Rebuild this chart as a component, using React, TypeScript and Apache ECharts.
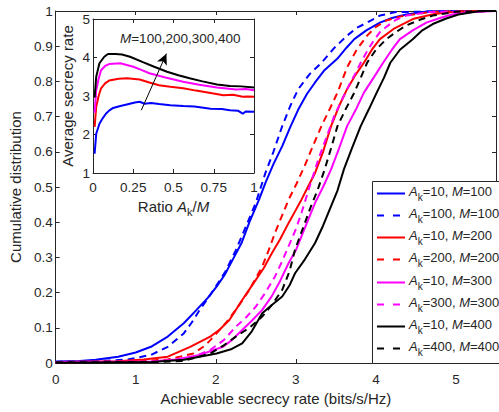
import React, { useEffect, useRef } from 'react';
import * as echarts from 'echarts';

const FONT = '"Liberation Sans", Arial, Helvetica, sans-serif';
const TXT = '#262626';

// ---------- main chart: CDF curves [rate, cumulative probability] ----------
const cdfAk10M100 = [
  [0, 0.004], [0.3, 0.006], [0.5, 0.009], [0.78, 0.018], [1.0, 0.03], [1.19, 0.046], [1.4, 0.075],
  [1.6, 0.113], [1.76, 0.151], [1.9, 0.185], [2.01, 0.217], [2.11, 0.25], [2.21, 0.293], [2.32, 0.34],
  [2.42, 0.4], [2.54, 0.464], [2.62, 0.512], [2.72, 0.565], [2.83, 0.616], [2.93, 0.67], [3.03, 0.72],
  [3.14, 0.765], [3.24, 0.797], [3.35, 0.83], [3.52, 0.865], [3.63, 0.895], [3.73, 0.92], [3.88, 0.945],
  [4.05, 0.967], [4.2, 0.98], [4.38, 0.99], [4.66, 0.999], [5.5, 1],
];
const cdfAk100M100 = [
  [0, 0.003], [0.5, 0.005], [0.9, 0.01], [1.19, 0.023], [1.4, 0.046], [1.6, 0.084], [1.7, 0.115],
  [1.8, 0.151], [1.9, 0.183], [2.0, 0.217], [2.12, 0.26], [2.25, 0.32], [2.38, 0.39], [2.5, 0.455],
  [2.62, 0.54], [2.72, 0.6], [2.83, 0.673], [2.93, 0.73], [3.03, 0.778], [3.17, 0.82], [3.32, 0.853],
  [3.48, 0.895], [3.64, 0.93], [3.76, 0.952], [3.89, 0.967], [4.05, 0.987], [4.25, 0.997], [5.5, 1],
];
const cdfAk10M200 = [
  [0, 0.003], [0.78, 0.005], [1.1, 0.01], [1.4, 0.018], [1.68, 0.046], [1.93, 0.075], [2.05, 0.095],
  [2.17, 0.122], [2.33, 0.179], [2.5, 0.236], [2.6, 0.27], [2.7, 0.312], [2.8, 0.35], [2.91, 0.398],
  [3.0, 0.435], [3.07, 0.464], [3.15, 0.5], [3.24, 0.54], [3.34, 0.6], [3.44, 0.673], [3.54, 0.73],
  [3.64, 0.778], [3.75, 0.82], [3.85, 0.853], [3.95, 0.89], [4.05, 0.92], [4.22, 0.949], [4.46, 0.977],
  [4.7, 0.99], [4.87, 0.996], [5.2, 1], [5.5, 1],
];
const cdfAk200M200 = [
  [0, 0.002], [1.0, 0.004], [1.4, 0.01], [1.72, 0.027], [1.87, 0.05], [2.01, 0.084], [2.13, 0.115],
  [2.25, 0.151], [2.42, 0.208], [2.58, 0.274], [2.66, 0.32], [2.74, 0.37], [2.83, 0.42], [2.91, 0.464],
  [3.01, 0.51], [3.11, 0.56], [3.22, 0.62], [3.32, 0.673], [3.42, 0.72], [3.52, 0.768], [3.64, 0.84],
  [3.76, 0.89], [3.89, 0.93], [4.0, 0.955], [4.13, 0.973], [4.3, 0.984], [4.46, 0.99], [4.7, 0.998], [5.5, 1],
];
const cdfAk10M300 = [
  [0, 0.003], [1.19, 0.004], [1.5, 0.01], [1.8, 0.023], [2.09, 0.046], [2.2, 0.065], [2.33, 0.094],
  [2.45, 0.12], [2.58, 0.151], [2.7, 0.19], [2.79, 0.227], [2.91, 0.284], [3.0, 0.32], [3.07, 0.36],
  [3.16, 0.41], [3.24, 0.455], [3.34, 0.5], [3.44, 0.55], [3.54, 0.61], [3.64, 0.673], [3.75, 0.72],
  [3.85, 0.768], [3.97, 0.81], [4.09, 0.853], [4.2, 0.89], [4.3, 0.92], [4.46, 0.945], [4.63, 0.967],
  [4.8, 0.98], [4.95, 0.99], [5.2, 0.997], [5.5, 1],
];
const cdfAk300M300 = [
  [0, 0.002], [1.3, 0.004], [1.7, 0.015], [1.93, 0.037], [2.1, 0.065], [2.25, 0.103], [2.38, 0.13],
  [2.5, 0.16], [2.62, 0.2], [2.74, 0.246], [2.83, 0.29], [2.91, 0.332], [3.0, 0.38], [3.07, 0.426],
  [3.17, 0.5], [3.28, 0.578], [3.38, 0.64], [3.48, 0.702], [3.58, 0.75], [3.68, 0.797], [3.75, 0.825],
  [3.81, 0.853], [3.9, 0.89], [3.97, 0.915], [4.05, 0.94], [4.13, 0.955], [4.25, 0.975], [4.38, 0.987],
  [4.66, 0.997], [5.5, 1],
];
const cdfAk10M400 = [
  [0, 0.001], [1.2, 0.003], [1.6, 0.009], [2.01, 0.027], [2.2, 0.04], [2.33, 0.056], [2.45, 0.09],
  [2.58, 0.141], [2.7, 0.165], [2.83, 0.189], [2.92, 0.22], [2.99, 0.255], [3.1, 0.29], [3.24, 0.341],
  [3.34, 0.39], [3.44, 0.446], [3.52, 0.49], [3.6, 0.55], [3.7, 0.61], [3.81, 0.673], [3.91, 0.72],
  [4.01, 0.768], [4.1, 0.81], [4.18, 0.853], [4.3, 0.89], [4.46, 0.92], [4.58, 0.945], [4.71, 0.963],
  [4.87, 0.978], [5.03, 0.99], [5.3, 1], [5.5, 1],
];
const cdfAk400M400 = [
  [0, 0.002], [1.3, 0.003], [1.6, 0.006], [1.93, 0.027], [2.1, 0.05], [2.25, 0.075], [2.42, 0.1],
  [2.58, 0.132], [2.7, 0.165], [2.83, 0.208], [2.92, 0.26], [2.99, 0.322], [3.1, 0.39], [3.19, 0.446],
  [3.27, 0.49], [3.36, 0.55], [3.44, 0.61], [3.52, 0.673], [3.62, 0.72], [3.73, 0.768], [3.81, 0.81],
  [3.89, 0.853], [4.0, 0.89], [4.13, 0.92], [4.25, 0.94], [4.38, 0.959], [4.55, 0.975], [4.71, 0.987],
  [5.0, 0.998], [5.5, 1],
];

const mainCurves = [cdfAk10M100, cdfAk100M100, cdfAk10M200, cdfAk200M200, cdfAk10M300, cdfAk300M300, cdfAk10M400, cdfAk400M400];
const legendAk = ['10', '100', '10', '200', '10', '300', '10', '400'];
const legendM = ['100', '100', '200', '200', '300', '300', '400', '400'];
const curveColors = ['#0000ff', '#0000ff', '#ff0000', '#ff0000', '#ff00ff', '#ff00ff', '#000000', '#000000'];
const curveDashed = [false, true, false, true, false, true, false, true];

// ---------- inset: average secrecy rate vs ratio Ak/M ----------
const insetM100 = [
  [0.01, 1.5], [0.02, 2.02], [0.03, 2.15], [0.04, 2.28], [0.06, 2.42], [0.08, 2.54], [0.1, 2.62],
  [0.125, 2.69], [0.17, 2.74], [0.21, 2.78], [0.26, 2.83], [0.29, 2.85], [0.32, 2.8], [0.36, 2.82],
  [0.41, 2.79], [0.48, 2.76], [0.56, 2.74], [0.63, 2.73], [0.73, 2.67], [0.8, 2.66], [0.85, 2.63],
  [0.9, 2.62], [0.93, 2.54], [0.95, 2.6], [1.0, 2.59],
];
const insetM200 = [
  [0.01, 2.2], [0.02, 2.72], [0.035, 3.0], [0.05, 3.2], [0.075, 3.33], [0.1, 3.4], [0.16, 3.45],
  [0.21, 3.46], [0.29, 3.43], [0.35, 3.35], [0.41, 3.28], [0.48, 3.24], [0.56, 3.2], [0.64, 3.14],
  [0.73, 3.08], [0.81, 3.02], [0.87, 3.03], [0.93, 2.98], [0.96, 2.99], [1.0, 2.98],
];
const insetM300 = [
  [0.01, 2.56], [0.02, 3.15], [0.035, 3.45], [0.05, 3.67], [0.075, 3.78], [0.1, 3.83], [0.17, 3.85],
  [0.25, 3.76], [0.3, 3.68], [0.35, 3.59], [0.45, 3.48], [0.56, 3.37], [0.66, 3.29], [0.77, 3.22],
  [0.89, 3.17], [0.95, 3.18], [1.0, 3.15],
];
const insetM400 = [
  [0.01, 2.96], [0.02, 3.5], [0.04, 3.85], [0.07, 4.02], [0.093, 4.09], [0.14, 4.09], [0.18, 4.08],
  [0.23, 4.02], [0.31, 3.88], [0.38, 3.76], [0.46, 3.63], [0.53, 3.54], [0.6, 3.46], [0.68, 3.38],
  [0.77, 3.3], [0.85, 3.26], [0.92, 3.25], [1.0, 3.22],
];
const insetCurves = [insetM100, insetM200, insetM300, insetM400];
const insetColors = ['#0000ff', '#ff0000', '#ff00ff', '#000000'];
const arrowFrom = [0.3, 2.63];
const arrowTo = [0.456, 4.1];
const arrowText = '=100,200,300,400';

const legendNames = legendAk.map((a, i) => `Ak=${a}, M=${legendM[i]}`);

const measure = (() => {
  let ctx: CanvasRenderingContext2D | null = null;
  return (text: string, font: string) => {
    if (!ctx) ctx = document.createElement('canvas').getContext('2d');
    if (!ctx) return text.length * 7;
    ctx.font = font;
    return ctx.measureText(text).width;
  };
})();

const axisCommon = (show: boolean) => ({
  axisLine: { show: true, onZero: false, lineStyle: { color: TXT, width: 1 } },
  axisTick: { show: true, inside: true, length: 4, lineStyle: { color: TXT, width: 1 } },
  splitLine: { show: false },
  axisLabel: { show, color: TXT, fontFamily: FONT, fontSize: 13.5 },
});

function buildLegend() {
  const boxX = 372, boxY = 181, boxW = 130, boxH = 182;
  const rowTop = 193, rowStep = 22.14;
  const fs = 13, subFs = 10;
  const fontN = `${fs}px "Liberation Sans"`;
  const fontI = `italic ${fs}px "Liberation Sans"`;
  const fontS = `${subFs}px "Liberation Sans"`;
  const els: any[] = [
    {
      type: 'rect',
      shape: { x: boxX + 0.5, y: boxY + 0.5, width: boxW, height: boxH },
      style: { fill: '#fff', stroke: TXT, lineWidth: 1 },
      z: 50,
    },
  ];
  legendNames.forEach((_, i) => {
    const cy = Math.round(rowTop + i * rowStep) + 0.5;
    els.push({
      type: 'line',
      shape: { x1: 377, y1: cy, x2: 405, y2: cy },
      style: { stroke: curveColors[i], lineWidth: 2, lineDash: curveDashed[i] ? [7, 9] : null },
      z: 51,
    });
    let x = 409;
    const ty = cy - 2.5;
    const pieces: [string, string, number, number, string][] = [
      ['A', fontI, fs, ty, 'italic'],
      ['k', fontS, subFs, cy + 4, 'normal'],
      [`=${legendAk[i]}, `, fontN, fs, ty, 'normal'],
      ['M', fontI, fs, ty, 'italic'],
      [`=${legendM[i]}`, fontN, fs, ty, 'normal'],
    ];
    pieces.forEach(([t, f, size, y, st]) => {
      els.push({
        type: 'text',
        x,
        y,
        z: 52,
        style: {
          text: t,
          fill: TXT,
          fontSize: size,
          fontFamily: FONT,
          fontStyle: st,
          verticalAlign: 'middle',
          textVerticalAlign: 'middle',
          align: 'left',
        },
      });
      x += measure(t, f);
    });
  });
  return els;
}

export default function App() {
  const ref = useRef<HTMLDivElement>(null);
  useEffect(() => {
    if (!ref.current) return;
    const chart = echarts.init(ref.current, undefined, { renderer: 'svg' });

    const mainSeries = mainCurves.map((d, i) => ({
      name: legendNames[i],
      type: 'line',
      xAxisIndex: 0,
      yAxisIndex: 0,
      data: d,
      symbol: 'none',
      showSymbol: false,
      smooth: false,
      lineStyle: { color: curveColors[i], width: 2, type: curveDashed[i] ? [7, 5] : 'solid' },
      itemStyle: { color: curveColors[i] },
      z: 3,
    }));

    const insetSeries = insetCurves.map((d, i) => ({
      name: 'inset' + i,
      type: 'line',
      xAxisIndex: 2,
      yAxisIndex: 2,
      data: d,
      symbol: 'none',
      showSymbol: false,
      lineStyle: { color: insetColors[i], width: 2 },
      z: 4,
      ...(i === 0
        ? {
            markLine: {
              silent: true,
              symbol: ['none', 'arrow'],
              symbolSize: [8, 11],
              label: { show: false },
              lineStyle: { color: '#000', width: 1, type: 'solid' },
              data: [[{ coord: arrowFrom }, { coord: arrowTo }]],
            },
          }
        : {}),
    }));

    const option: any = {
      animation: false,
      backgroundColor: '#fff',
      textStyle: { fontFamily: FONT },
      grid: [
        { left: 53, top: 11, width: 447, height: 352 },
        { left: 93, top: 19, width: 161, height: 154, show: true, backgroundColor: '#fff', borderWidth: 0 },
      ],
      xAxis: [
        {
          gridIndex: 0, type: 'value', min: 0, max: 5.5, interval: 1, position: 'bottom',
          ...axisCommon(true),
          axisLabel: {
            show: true, color: TXT, fontFamily: FONT, fontSize: 13.5, margin: 9,
            formatter: (v: number) => (Number.isInteger(v) ? String(v) : ''),
          },
          name: 'Achievable secrecy rate (bits/s/Hz)', nameLocation: 'middle', nameGap: 28,
          nameTextStyle: { color: TXT, fontFamily: FONT, fontSize: 15 },
        },
        { gridIndex: 0, type: 'value', min: 0, max: 5.5, interval: 1, position: 'top', ...axisCommon(false) },
        {
          gridIndex: 1, type: 'value', min: 0, max: 1, interval: 0.25, position: 'bottom',
          ...axisCommon(true),
          axisLabel: { show: true, color: TXT, fontFamily: FONT, fontSize: 13.5, margin: 7 },
          name: '{n|Ratio }{i|A}{s|k}{n|/}{i|M}', nameLocation: 'middle', nameGap: 24,
          nameTextStyle: {
            rich: {
              n: { fontSize: 15, fontFamily: FONT, color: TXT, lineHeight: 17 },
              i: { fontSize: 15, fontFamily: FONT, color: TXT, fontStyle: 'italic', lineHeight: 17 },
              s: { fontSize: 11, fontFamily: FONT, color: TXT, lineHeight: 17, padding: [12, 0, 0, 0] },
            },
          },
        },
        { gridIndex: 1, type: 'value', min: 0, max: 1, interval: 0.25, position: 'top', ...axisCommon(false) },
      ],
      yAxis: [
        {
          gridIndex: 0, type: 'value', min: 0, max: 1, interval: 0.1, position: 'left',
          ...axisCommon(true),
          axisLabel: {
            show: true, color: TXT, fontFamily: FONT, fontSize: 13.5, margin: 3,
            formatter: (v: number) => String(Math.round(v * 10) / 10),
          },
          name: 'Cumulative distribution', nameLocation: 'middle', nameGap: 27,
          nameTextStyle: { color: TXT, fontFamily: FONT, fontSize: 15 },
        },
        { gridIndex: 0, type: 'value', min: 0, max: 1, interval: 0.1, position: 'right', ...axisCommon(false) },
        {
          gridIndex: 1, type: 'value', min: 1, max: 5, interval: 1, position: 'left',
          ...axisCommon(true),
          axisLabel: { show: true, color: TXT, fontFamily: FONT, fontSize: 13.5, margin: 3 },
          name: 'Average secrecy rate', nameLocation: 'middle', nameGap: 18,
          nameTextStyle: { color: TXT, fontFamily: FONT, fontSize: 15 },
        },
        { gridIndex: 1, type: 'value', min: 1, max: 5, interval: 1, position: 'right', ...axisCommon(false) },
      ],
      graphic: [
        {
          type: 'text',
          left: 120,
          top: 31,
          z: 100,
          style: {
            text: `{i|M}{n|${arrowText}}`,
            rich: {
              n: { fontSize: 13.5, fontFamily: FONT, fill: TXT, color: TXT, lineHeight: 16 },
              i: { fontSize: 13.5, fontFamily: FONT, fill: TXT, color: TXT, fontStyle: 'italic', lineHeight: 16 },
            },
          },
        },
        ...buildLegend(),
      ],
      series: [...mainSeries, ...insetSeries],
    };
    chart.setOption(option);
    return () => chart.dispose();
  }, []);
  return <div ref={ref} style={{ position: 'absolute', left: 0, top: 0, width: 499, height: 412 }} />;
}
